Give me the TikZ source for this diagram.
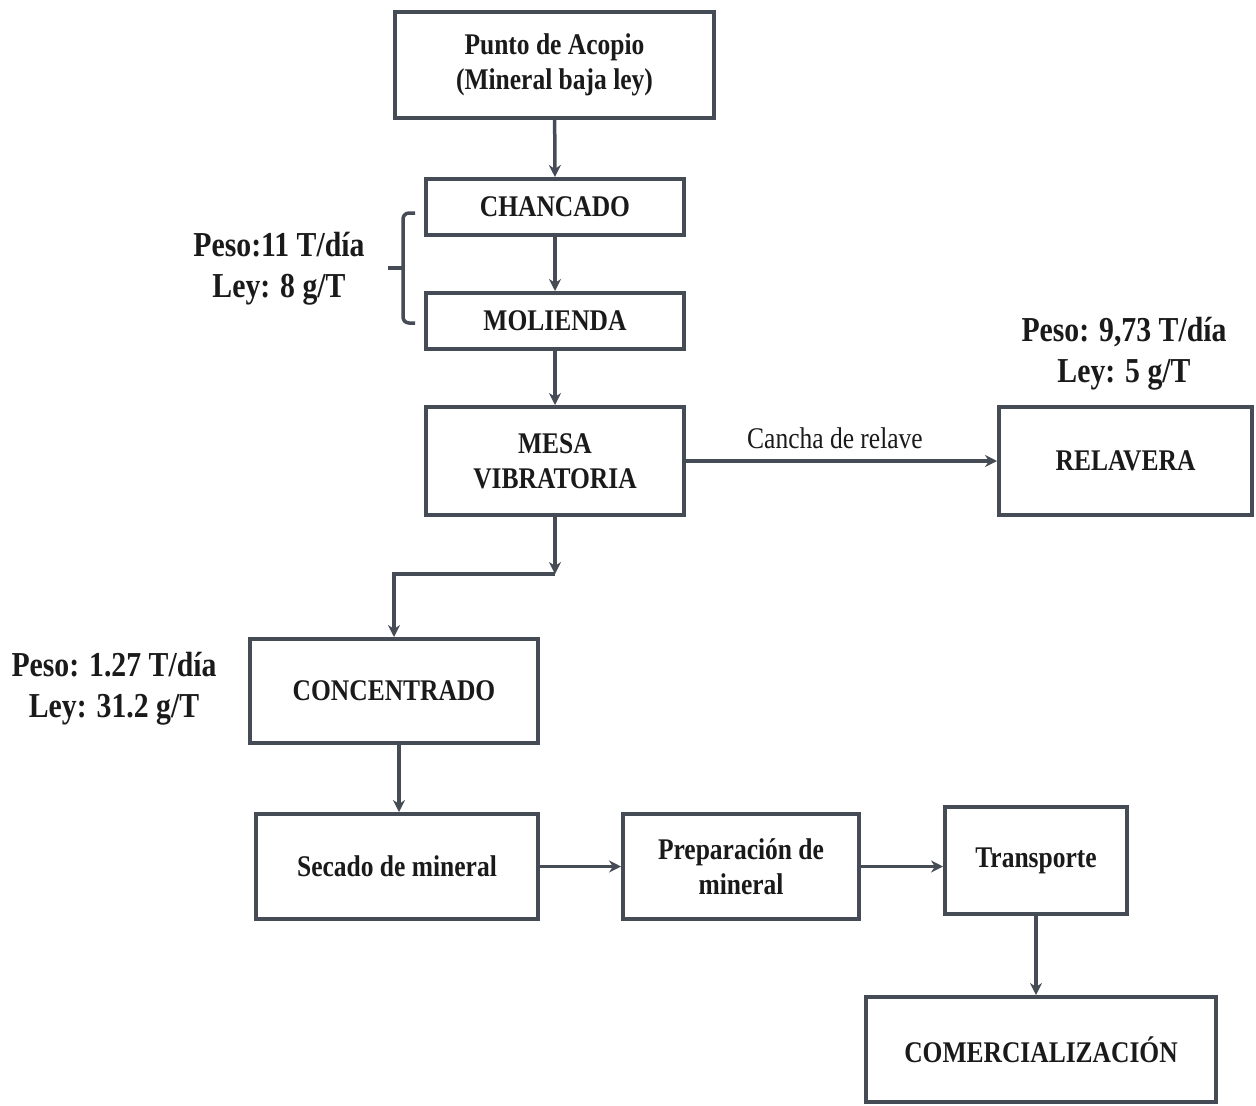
\documentclass[tikz,border=0pt]{standalone}
\usepackage{fontspec}
\setmainfont{Liberation Serif}[FakeStretch=0.85]
\usetikzlibrary{arrows.meta}
\definecolor{lc}{HTML}{454C55}
\definecolor{tc}{HTML}{1A1A1A}
\tikzset{
  box/.style={draw=lc, line width=4pt, align=center, inner sep=0pt, text=tc,
    font=\bfseries\fontsize{30}{35}\selectfont},
  arr/.style={draw=lc, line width=3.5pt, -{Stealth[length=12pt,width=12pt]}},
  lab/.style={align=center, inner sep=0pt, text=tc, font=\bfseries\fontsize{35}{41}\selectfont},
}
\begin{document}
\begin{tikzpicture}[x=1pt,y=1pt]
\useasboundingbox (0,0) rectangle (1256,-1106);
\fill[white] (0,0) rectangle (1256,-1106);

\node[box, minimum width=319, minimum height=106] (punto) at (554.5,-65) {\raisebox{-4pt}{\begin{tabular}{@{}c@{}}Punto de Acopio\\(Mineral baja ley)\end{tabular}}};
\node[box, minimum width=258, minimum height=56] (chan) at (555,-207) {CHANCADO};
\node[box, minimum width=258, minimum height=56] (mol) at (555,-321) {MOLIENDA};
\node[box, minimum width=258, minimum height=108] (mesa) at (555,-461) {MESA\\VIBRATORIA};
\node[box, minimum width=253, minimum height=108] (rel) at (1125.5,-461) {RELAVERA};
\node[box, minimum width=288, minimum height=104] (conc) at (394,-691) {CONCENTRADO};
\node[box, minimum width=282, minimum height=105] (sec) at (397,-866.5) {Secado de mineral};
\node[box, minimum width=236, minimum height=105] (prep) at (741,-866.5) {Preparación de\\mineral};
\node[box, minimum width=182, minimum height=107] (trans) at (1036,-860.5) {\raisebox{-3pt}{Transporte}};
\node[box, minimum width=350, minimum height=105] (com) at (1041,-1049.5) {COMERCIALIZACIÓN};

\node[lab] (l1) at (279,-269) {Peso:11 T/día\\Ley: 8 g/T};
\node[lab] (l2) at (1124,-354) {Peso: 9,73 T/día\\Ley: 5 g/T};
\node[lab] (l3) at (114,-689) {Peso: 1.27 T/día\\Ley: 31.2 g/T};
\node[text=tc, inner sep=0pt, font=\fontsize{30}{35}\selectfont] (cancha) at (835,-438) {Cancha de relave};

\draw[arr] (punto) -- (chan);
\draw[arr] (chan) -- (mol);
\draw[arr] (mol) -- (mesa);
\coordinate (c1) at (555,-574);
\draw[arr] (mesa.south) -- (c1);
\draw[arr] (c1) -| (conc.north);
\draw[arr] (mesa) -- (rel);
\draw[arr] ([xshift=5pt]conc.south) -- ([xshift=5pt]conc.south |- sec.north);
\draw[arr] (sec) -- (prep);
\draw[arr] (prep.east) -- (prep.east -| trans.west);
\draw[arr] (trans.south) -- (trans.south |- com.north);

\draw[lc, line width=3.5pt, rounded corners=6pt] (415,-213) -- (403,-213) -- (403,-323) -- (415,-323);
\draw[lc, line width=3.5pt] (403,-268) -- (388,-268);
\end{tikzpicture}
\end{document}
